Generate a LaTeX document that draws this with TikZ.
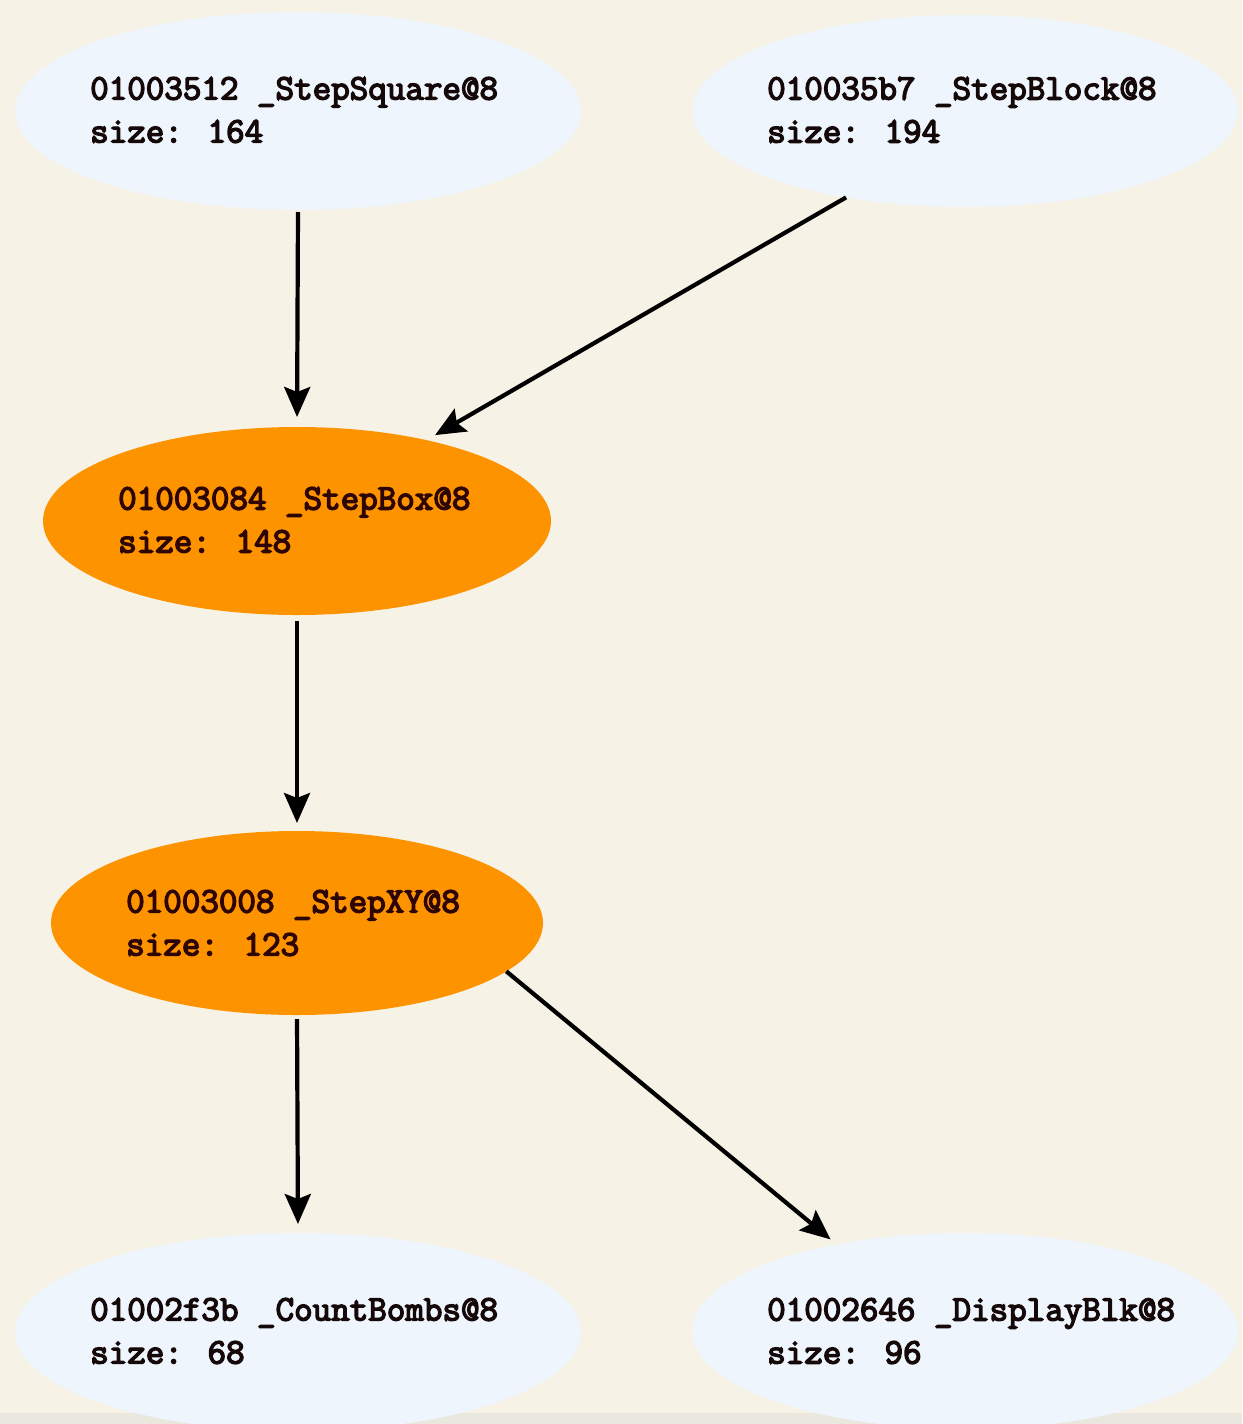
\documentclass[tikz,border=0pt]{standalone}
\usepackage{fontspec}
\newfontfamily\monob{Latin Modern Mono}[FakeBold=4]
\usetikzlibrary{arrows.meta,shapes.geometric}
\definecolor{bgc}{HTML}{F6F2E6}
\definecolor{bandc}{HTML}{E9E7DE}
\definecolor{lblue}{HTML}{EEF5FC}
\definecolor{orng}{HTML}{FE9300}
\definecolor{darktxt}{HTML}{140808}
\definecolor{redtxt}{HTML}{2E0505}
\tikzset{
  ell/.style={ellipse,draw=none,inner sep=0pt,outer sep=0pt},
  lightell/.style={ell,fill=lblue},
  orangeell/.style={ell,fill=orng},
  lbl/.style={anchor=west,align=left,inner sep=0pt,font=\monob\fontsize{36pt}{43pt}\selectfont,text=darktxt},
  lblo/.style={lbl,text=redtxt},
  arr/.style={line width=4.2pt,-{Stealth[length=30pt,width=26pt,inset=5pt]}},
}
\begin{document}
\begin{tikzpicture}[x=1pt,y=1pt]
\fill[bgc] (0,0) rectangle (1242,-1424);
\useasboundingbox (0,0) rectangle (1242,-1424);
\fill[bandc] (0,-1413) rectangle (1242,-1424);
% nodes
\node[lightell,minimum width=566pt,minimum height=198pt] (sq) at (298,-111) {};
\node[lightell,minimum width=546pt,minimum height=192pt] (blk) at (965,-111) {};
\node[orangeell,minimum width=508pt,minimum height=188pt] (box) at (297,-521) {};
\node[orangeell,minimum width=492pt,minimum height=184pt] (xy) at (297,-923) {};
\node[lightell,minimum width=566pt,minimum height=198pt] (cb) at (298,-1332) {};
\node[lightell,minimum width=546pt,minimum height=196pt] (db) at (965,-1331) {};
% labels
\node[lbl] (sqt) at (90,-110) {01003512 \_StepSquare@8\\size: 164};
\node[lbl] (blkt) at (767,-110) {010035b7 \_StepBlock@8\\size: 194};
\node[lblo] (boxt) at (118,-520) {01003084 \_StepBox@8\\size: 148};
\node[lblo] (xyt) at (126,-923) {01003008 \_StepXY@8\\size: 123};
\node[lbl] (cbt) at (90,-1331) {01002f3b \_CountBombs@8\\size: 68};
\node[lbl] (dbt) at (767,-1331) {01002646 \_DisplayBlk@8\\size: 96};
% edges
\draw[arr,shorten <=2pt,shorten >=10pt] (sq.south) -- (box.north);
\draw[arr,shorten >=10pt] (blk.216) -- (box.32);
\draw[arr,shorten <=6pt,shorten >=8pt] (box.south) -- (xy.north);
\draw[arr,shorten <=4pt,shorten >=9pt] (xy.south) -- (cb.north);
\draw[arr,shorten >=8pt] (xy.-13.4) -- (db.146.8);
\end{tikzpicture}
\end{document}
